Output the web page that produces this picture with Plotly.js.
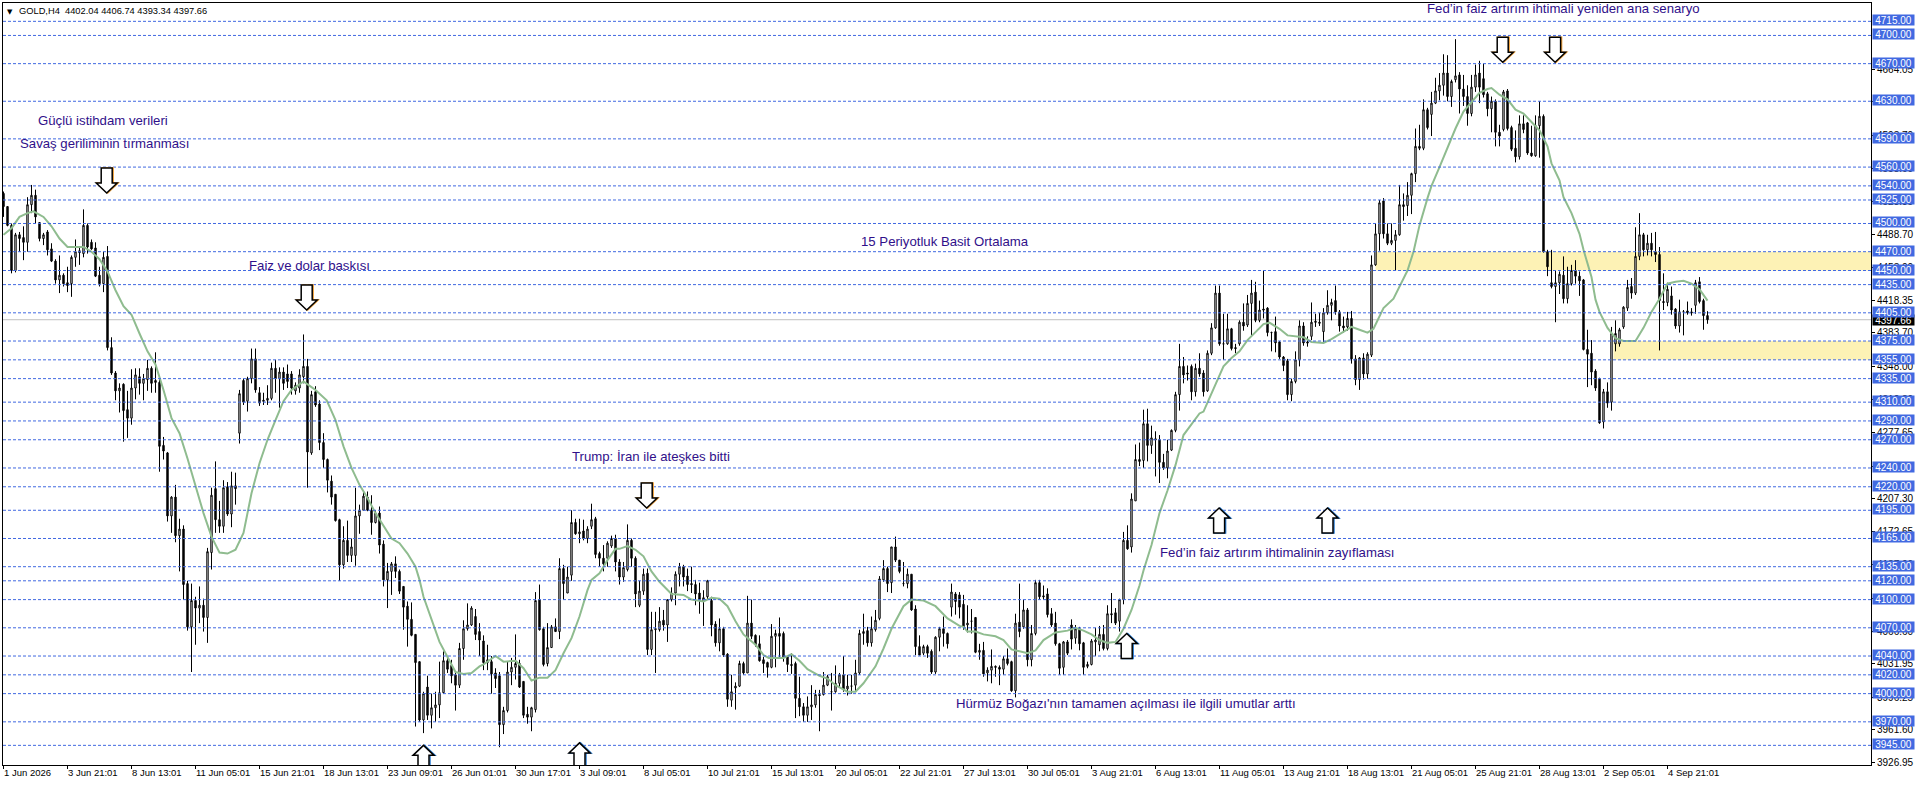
<!DOCTYPE html>
<html>
<head>
<meta charset="utf-8">
<script src="https://cdn.plot.ly/plotly-3.0.1.min.js"></script>
<style>html,body{margin:0;padding:0;background:#fff}</style>
</head>
<body>
<div id="gold_chart" style="width:1916px;height:786px"></div>
<script>
var opens = [
4532,4518,4498,4450,4488,4485,4480,4520,4530,4501,
4484,4491,4473,4460,4440,4445,4437,4436,4464,4471,
4468,4498,4480,4474,4445,4436,4465,4368,4341,4322,
4329,4302,4293,4325,4337,4330,4334,4346,4333,4331,
4264,4256,4189,4209,4168,4175,4117,4071,4099,4091,
4094,4081,4150,4218,4185,4178,4220,4191,4221,4277,
4333,4311,4335,4356,4320,4312,4312,4314,4346,4335,
4342,4340,4340,4322,4325,4337,4348,4256,4321,4308,
4267,4249,4226,4212,4185,4137,4163,4147,4147,4189,
4195,4209,4195,4182,4192,4159,4121,4130,4138,4130,
4114,4093,4079,4063,4034,3972,4007,3977,3985,3988,
4001,4035,4030,4020,4009,4048,4069,4073,4082,4066,
4056,4033,4034,4022,4019,3967,3982,4023,4028,4032,
4013,3978,3975,3983,4100,4069,4032,4049,4071,4066,
4133,4107,4126,4182,4170,4173,4165,4178,4186,4149,
4144,4144,4157,4165,4140,4124,4132,4163,4144,4094,
4109,4128,4047,4068,4068,4078,4073,4100,4107,4127,
4135,4125,4117,4116,4107,4098,4103,4099,4074,4054,
4069,4042,3993,4006,4008,4032,4022,4075,4062,4053,
4036,4033,4028,4061,4064,4064,4039,4031,4032,3995,
3986,3977,3986,3988,3999,3999,4009,4002,4002,4011,
4020,4005,4008,4009,4022,4064,4067,4054,4068,4080,
4121,4133,4118,4156,4142,4117,4117,4127,4090,4050,
4043,4050,4045,4023,4060,4069,4064,4092,4106,4105,
4095,4073,4077,4081,4044,4046,4022,4025,4029,4028,
4026,4037,4034,4003,4076,4071,4089,4036,4064,4118,
4104,4106,4085,4075,4053,4028,4055,4073,4059,4069,
4054,4029,4031,4055,4052,4063,4048,4085,4086,4077,
4100,4163,4156,4205,4249,4248,4287,4264,4271,4270,
4246,4240,4259,4280,4318,4348,4341,4348,4321,4346,
4341,4322,4362,4389,4426,4372,4372,4388,4368,4372,
4395,4392,4415,4427,4397,4409,4410,4384,4385,4374,
4358,4354,4318,4332,4355,4391,4374,4380,4396,4395,
4385,4405,4413,4418,4406,4391,4390,4399,4356,4334,
4357,4340,4360,4456,4489,4524,4489,4479,4482,4488,
4520,4519,4530,4553,4582,4580,4621,4616,4628,4641,
4647,4660,4635,4653,4658,4643,4635,4617,4645,4660,
4654,4638,4622,4630,4597,4600,4641,4602,4580,4571,
4606,4607,4575,4572,4604,4614,4470,4437,4433,4437,
4445,4420,4436,4450,4444,4440,4366,4362,4343,4335,
4289,4321,4310,4372,4372,4390,4410,4433,4426,4465,
4488,4472,4479,4470,4467,4417,4416,4423,4409,4391,
4406,4407,4406,4413,4438,4418,4402.04];

var highs = [
4534,4518,4500,4490,4491,4497,4528,4541,4536,4501,
4490,4493,4479,4462,4466,4447,4454,4466,4483,4474,
4515,4500,4483,4480,4454,4470,4476,4379,4343,4330,
4330,4322,4345,4346,4346,4340,4355,4348,4363,4338,
4273,4257,4210,4222,4186,4179,4120,4117,4103,4114,
4101,4155,4219,4247,4205,4227,4225,4236,4235,4323,
4335,4337,4367,4367,4326,4320,4328,4352,4355,4347,
4347,4350,4343,4331,4345,4382,4356,4322,4327,4312,
4277,4250,4232,4212,4186,4178,4184,4165,4219,4201,
4215,4215,4211,4195,4199,4163,4139,4140,4146,4132,
4114,4098,4097,4063,4034,4002,4019,4000,4002,4034,
4045,4040,4036,4022,4054,4078,4096,4093,4090,4075,
4062,4052,4040,4027,4023,3986,4034,4038,4063,4036,
4013,3986,3986,4108,4116,4071,4075,4073,4080,4144,
4137,4135,4195,4186,4186,4185,4178,4202,4188,4151,
4158,4162,4168,4169,4143,4140,4180,4165,4146,4120,
4133,4133,4087,4087,4092,4089,4100,4113,4130,4139,
4137,4133,4135,4121,4118,4110,4121,4103,4077,4080,
4071,4043,4020,4012,4035,4034,4104,4100,4063,4062,
4039,4034,4074,4068,4081,4066,4040,4043,4034,4018,
3990,3997,4009,4004,4004,4023,4020,4022,4030,4022,
4040,4020,4020,4036,4068,4085,4071,4082,4089,4125,
4142,4135,4156,4167,4142,4140,4133,4127,4094,4062,
4052,4052,4047,4061,4071,4082,4065,4117,4108,4108,
4105,4094,4090,4081,4053,4055,4028,4047,4030,4030,
4040,4048,4035,4085,4117,4100,4091,4073,4121,4121,
4115,4112,4091,4087,4054,4056,4057,4079,4073,4071,
4055,4034,4058,4070,4072,4073,4094,4107,4091,4101,
4172,4179,4213,4265,4267,4302,4303,4285,4279,4275,
4255,4270,4281,4321,4372,4358,4349,4350,4351,4362,
4344,4365,4394,4434,4434,4404,4404,4389,4372,4397,
4415,4424,4440,4438,4418,4450,4411,4385,4401,4375,
4359,4356,4335,4364,4397,4395,4380,4416,4404,4405,
4410,4429,4420,4434,4408,4401,4406,4407,4360,4358,
4362,4363,4466,4500,4525,4527,4500,4500,4493,4541,
4532,4544,4554,4601,4605,4632,4623,4640,4655,4660,
4680,4679,4653,4696,4661,4658,4647,4658,4669,4673,
4670,4640,4635,4632,4605,4642,4643,4604,4599,4615,
4615,4608,4604,4615,4630,4616,4472,4472,4450,4449,
4465,4454,4456,4461,4449,4441,4387,4376,4345,4336,
4324,4331,4390,4397,4389,4412,4440,4442,4496,4511,
4490,4488,4490,4491,4475,4447,4437,4433,4410,4419,
4408,4417,4410,4440,4443,4420,4406.74];

var lows = [
4507,4497,4447,4448,4470,4461,4470,4511,4500,4481,
4477,4466,4459,4436,4426,4433,4427,4422,4454,4456,
4464,4468,4472,4443,4433,4427,4365,4339,4312,4299,
4268,4272,4286,4313,4318,4312,4322,4320,4320,4236,
4249,4183,4171,4161,4130,4100,4067,4023,4052,4075,
4066,4054,4132,4171,4171,4171,4189,4177,4201,4266,
4307,4300,4330,4320,4306,4307,4307,4312,4320,4304,
4323,4325,4318,4318,4320,4330,4219,4254,4305,4259,
4240,4214,4201,4183,4120,4133,4140,4140,4136,4170,
4195,4194,4169,4181,4149,4114,4091,4105,4123,4106,
4068,4050,4061,3965,3970,3958,3972,3963,3970,3974,
4000,4022,4011,3982,4006,4036,4067,4072,4057,4040,
4025,4025,4000,4006,3943,3957,3980,4009,4015,4006,
3974,3968,3960,3980,4067,4029,4029,4049,4066,4058,
4100,4107,4120,4169,4160,4163,4160,4175,4144,4135,
4130,4135,4155,4130,4116,4119,4130,4135,4092,4092,
4105,4041,4041,4022,4066,4067,4055,4098,4094,4114,
4114,4109,4107,4094,4085,4072,4100,4061,4050,4045,
4039,3986,3986,3983,4007,4020,4022,4058,4050,4034,
4022,4017,4027,4028,4039,4034,4023,4021,3974,3976,
3970,3970,3972,3985,3960,3998,4008,3982,4001,4006,
4002,3998,4000,4003,4020,4052,4050,4050,4066,4078,
4119,4108,4107,4140,4128,4114,4112,4088,4041,4041,
4041,4038,4021,4021,4045,4050,4048,4082,4084,4080,
4068,4065,4064,4043,4036,4018,4013,4011,4018,4009,
4020,4030,4002,3996,4060,4069,4029,4029,4062,4100,
4100,4081,4071,4051,4020,4020,4041,4047,4053,4046,
4020,4027,4030,4040,4045,4046,4046,4075,4073,4066,
4095,4153,4150,4205,4242,4240,4247,4255,4231,4224,
4238,4229,4258,4278,4301,4330,4333,4312,4316,4337,
4316,4321,4360,4388,4370,4355,4371,4365,4362,4370,
4386,4390,4381,4395,4395,4399,4380,4364,4363,4356,
4343,4312,4311,4330,4348,4370,4369,4376,4390,4391,
4374,4403,4397,4403,4385,4384,4386,4351,4328,4323,
4334,4335,4358,4455,4471,4484,4477,4477,4450,4487,
4503,4508,4510,4544,4578,4578,4600,4593,4627,4631,
4636,4630,4624,4650,4617,4625,4604,4614,4640,4628,
4634,4614,4597,4582,4582,4598,4599,4577,4565,4568,
4596,4573,4571,4571,4570,4469,4444,4431,4395,4425,
4415,4415,4434,4436,4423,4365,4326,4328,4322,4287,
4282,4304,4301,4364,4369,4388,4407,4420,4424,4461,
4465,4466,4465,4459,4365,4408,4412,4403,4388,4384,
4381,4403,4402,4404,4415,4387,4393.34];

var closes = [
4518,4498,4450,4488,4484,4480,4520,4530,4507,4484,
4488,4472,4460,4440,4445,4436,4434,4464,4470,4469,
4498,4475,4473,4444,4436,4464,4368,4341,4322,4325,
4301,4293,4325,4339,4330,4335,4346,4330,4331,4263,
4258,4189,4209,4168,4175,4116,4071,4099,4091,4094,
4081,4151,4211,4185,4178,4219,4191,4221,4218,4319,
4310,4335,4356,4323,4309,4311,4314,4346,4335,4342,
4330,4332,4325,4328,4339,4348,4257,4318,4307,4267,
4249,4227,4209,4184,4137,4163,4147,4156,4189,4195,
4210,4195,4182,4192,4158,4121,4130,4138,4130,4109,
4092,4079,4062,4033,3972,4000,3977,3985,3988,4001,
4035,4026,4019,4009,4048,4069,4073,4091,4063,4057,
4033,4036,4021,4016,3967,3982,4023,4028,4032,4007,
3977,3975,3985,4099,4068,4031,4049,4071,4066,4133,
4117,4124,4182,4170,4172,4165,4175,4185,4148,4144,
4138,4160,4165,4140,4124,4134,4163,4144,4106,4109,
4127,4047,4068,4069,4077,4073,4100,4107,4127,4135,
4124,4116,4116,4106,4100,4102,4120,4073,4054,4069,
4041,3994,4002,4008,4032,4022,4075,4061,4052,4035,
4032,4028,4061,4064,4061,4039,4031,4030,3995,3986,
3977,3986,3988,3999,3998,4009,4018,4002,4011,4020,
4005,4008,4008,4022,4064,4066,4054,4069,4078,4122,
4133,4117,4156,4142,4130,4117,4127,4089,4050,4041,
4050,4043,4023,4060,4069,4064,4053,4108,4098,4092,
4071,4075,4077,4044,4046,4021,4025,4029,4028,4026,
4037,4032,4003,4075,4066,4089,4036,4064,4118,4103,
4103,4084,4073,4053,4027,4055,4043,4058,4069,4053,
4028,4031,4056,4057,4063,4048,4085,4084,4075,4100,
4163,4154,4207,4249,4247,4287,4264,4272,4270,4246,
4240,4258,4280,4318,4348,4339,4340,4321,4346,4340,
4321,4362,4389,4426,4372,4372,4388,4367,4367,4395,
4391,4415,4426,4397,4408,4408,4384,4384,4373,4358,
4349,4318,4332,4355,4391,4373,4373,4395,4395,4394,
4405,4413,4416,4406,4391,4389,4399,4356,4334,4357,
4340,4361,4456,4489,4522,4489,4479,4482,4488,4520,
4518,4530,4553,4582,4580,4621,4602,4628,4641,4647,
4660,4635,4651,4657,4643,4635,4617,4645,4658,4645,
4637,4622,4630,4597,4593,4640,4601,4579,4571,4606,
4600,4575,4572,4604,4614,4470,4454,4433,4437,4446,
4420,4436,4450,4444,4439,4366,4361,4342,4325,4288,
4321,4309,4383,4383,4387,4411,4432,4426,4465,4488,
4472,4479,4472,4467,4418,4416,4430,4408,4391,4406,
4406,4405,4405,4437,4417,4402,4397.66];

// 15 period average
var maBars = [0,2,4,6,7.5,10,12,14,16,18,20,22,24,26,28,30,32,34,36,38,40,42,44,46,48,50,52,54,56,58,60,62,64,66,68,70,72,73,75,77,78,80.8,83,85,87,89,91,93,95,97,99,101,103,104,105,107,109,111,113,115,117,119,120,123,125,128,130,132,134,136,138,140,142,144,146,147,149,151,153,154,156,158,160,162,164,167,170,172,175,177,179,181,183,185,188,190,191.3,195,197,199,201,204,206,208,211,213,215,218,220,222,225,227,230,233,236,239,240,241,243,245,248,250,252,254,256,258,260,263,266,268,270,272,274,276,278,280,282,284,285,287,289,291,293,295,297,299,300,301,303,305,307,309,311,313,315,316.5,319,321,323,325,327,330,332,335,337,339,341,342.5,345,347.5,349,351,352.5,354,356,357,359,361,363,365,367,369,371,372,374,376,378,380,382,384,386,387,389,390,392,394,395,397,398,399,401,403,405,408,410,412,414,416,418,420,422,424,426];
var maValues = [4488,4495,4507,4511,4513,4507,4497,4484,4475,4475,4475,4470,4462,4449,4429,4412,4403,4383,4364,4350,4323,4293,4277,4250,4220,4192,4167,4150,4149,4153,4171,4213,4245,4270,4291,4311,4323,4326,4332,4326,4323,4312,4291,4263,4240,4222,4208,4192,4178,4165,4160,4149,4135,4121,4103,4078,4055,4039,4023,4021,4022,4029,4031,4040,4034,4035,4027,4014,4017,4017,4025,4043,4059,4082,4110,4121,4128,4142,4154,4154,4157,4153,4146,4130,4119,4106,4105,4100,4098,4102,4101,4093,4077,4063,4052,4041,4038,4038,4042,4035,4026,4019,4016,4009,4002,4002,4011,4029,4048,4069,4093,4100,4099,4093,4080,4072,4071,4066,4066,4063,4061,4057,4047,4045,4043,4046,4057,4065,4067,4070,4067,4063,4057,4054,4055,4069,4089,4115,4131,4158,4192,4216,4243,4275,4287,4298,4300,4310,4330,4348,4357,4364,4376,4384,4393,4394.5,4388,4381,4380,4379,4374,4373,4377,4385,4390,4387,4384,4388,4410,4420,4433,4450,4470,4498,4527,4540,4560,4581,4601,4619,4629,4639,4643,4644,4637,4632,4621,4617,4608,4599,4582,4564,4546,4528,4511,4489,4472,4443,4419,4406,4389,4378,4375,4375,4389,4406,4420,4436,4438,4439,4436,4430,4418];

var levels = [4715,4700,4670,4630,4590,4560,4540,4525,4500,4470,4450,4435,4405,4375,4355,4335,4310,4290,4270,4240,4220,4195,4165,4135,4120,4100,4070,4040,4020,4000,3970,3945];
var lastPrice = 4397.66;

var priceTicks = [3926.95,3961.60,3996.25,4031.95,4066.60,4101.25,4137.00,4172.65,4207.30,4242.00,4277.65,4312.30,4348.00,4383.70,4418.35,4453.00,4488.70,4523.35,4558.00,4593.70,4629.35,4664.05];

var dateLabels = ['1 Jun 2026','3 Jun 21:01','8 Jun 13:01','11 Jun 05:01','15 Jun 21:01','18 Jun 13:01','23 Jun 09:01','26 Jun 01:01','30 Jun 17:01','3 Jul 09:01','8 Jul 05:01','10 Jul 21:01','15 Jul 13:01','20 Jul 05:01','22 Jul 21:01','27 Jul 13:01','30 Jul 05:01','3 Aug 21:01','6 Aug 13:01','11 Aug 05:01','13 Aug 21:01','18 Aug 13:01','21 Aug 05:01','25 Aug 21:01','28 Aug 13:01','2 Sep 05:01','4 Sep 21:01'];
var dateStep = 16;

var noteTexts = ['Güçlü istihdam verileri','Savaş geriliminin tırmanması','Faiz ve dolar baskısı','15 Periyotluk Basit Ortalama','Trump: İran ile ateşkes bitti','Fed’in faiz artırım ihtimalinin zayıflaması','Hürmüz Boğazı\'nın tamamen açılması ile ilgili umutlar arttı','Fed’in faiz artırım ihtimali yeniden ana senaryo'];
var noteBars = [8.1,3.5,60.9,213.9,141.5,288.5,237.5,355.3];
var notePrices = [4610,4585.6,4455,4480.5,4252,4150,3989,4729];

var downArrowBars = [25.8,75.8,160.8,374.8,387.9];
var downArrowPrices = [4532.4,4408,4197.5,4671.4,4671.4];
var upArrowBars = [105,144,280.8,303.9,331];
var upArrowPrices = [3945,3947.6,4064,4197.4,4197.4];

var zoneStarts = [343,402.5];
var zoneTops = [4470,4375];
var zoneBottoms = [4450,4355];

var bars = opens.map(function (v, i) { return i; });
var xEnd = 466.875;

var candles = {
    type: 'candlestick',
    x: bars,
    open: opens,
    high: highs,
    low: lows,
    close: closes,
    whiskerwidth: 0,
    line: {width: 1},
    increasing: {line: {color: '#000000', width: 1}, fillcolor: '#ffffff'},
    decreasing: {line: {color: '#000000', width: 1}, fillcolor: '#000000'},
    hoverinfo: 'skip'
};

var average = {
    type: 'scatter',
    mode: 'lines',
    x: maBars,
    y: maValues,
    line: {color: '#8fbc8f', width: 2},
    hoverinfo: 'skip'
};

var NOTE_FONT = {family: 'Liberation Sans, Arial, sans-serif', size: 13.2, color: '#30108a'};
var AXIS_FONT = {family: 'Liberation Sans, Arial, sans-serif', size: 9.5, color: '#000000'};
var PRICE_FONT_SIZE = 10;

var shapes = [];

zoneStarts.forEach(function (start, i) {
    shapes.push({type: 'rect', layer: 'below', xref: 'x', yref: 'y', x0: start, x1: xEnd, y0: zoneBottoms[i], y1: zoneTops[i], fillcolor: '#fdf2b5', line: {width: 0}});
});

shapes.push({type: 'line', layer: 'below', xref: 'paper', yref: 'y', x0: 0, x1: 1, y0: lastPrice, y1: lastPrice, line: {color: '#c0c0c0', width: 1}});

levels.forEach(function (level) {
    shapes.push({type: 'line', layer: 'above', xref: 'paper', yref: 'y', x0: 0, x1: 1, y0: level, y1: level, line: {color: '#4169e1', width: 1, dash: '3px,2px'}});
});

// hollow arrow glyph, tip on the anchor, sized in pixels, dx nudges the colour fringe
function arrowShape(bar, price, dir, dx, colour) {
    var s = dir;
    var path = 'M' + dx + ',0 L' + (10.5 + dx) + ',' + (10 * s) + ' L' + (5.5 + dx) + ',' + (10 * s) + ' L' + (5.5 + dx) + ',' + (25 * s) + ' L' + (-5.5 + dx) + ',' + (25 * s) + ' L' + (-5.5 + dx) + ',' + (10 * s) + ' L' + (-10.5 + dx) + ',' + (10 * s) + ' Z';
    return {type: 'path', layer: 'above', xref: 'x', yref: 'y', xsizemode: 'pixel', ysizemode: 'pixel', xanchor: bar, yanchor: price, path: path, fillcolor: '#ffffff', line: {color: colour, width: 1.5}};
}
downArrowBars.forEach(function (b, i) {
    shapes.push(arrowShape(b, downArrowPrices[i], 1, 1, '#f2a33c'));
    shapes.push(arrowShape(b, downArrowPrices[i], 1, 0, '#000000'));
});
upArrowBars.forEach(function (b, i) {
    shapes.push(arrowShape(b, upArrowPrices[i], -1, 1, '#2b7fd6'));
    shapes.push(arrowShape(b, upArrowPrices[i], -1, 0, '#000000'));
});

var annotations = [];

noteTexts.forEach(function (t, i) {
    annotations.push({xref: 'x', yref: 'y', x: noteBars[i], y: notePrices[i], text: t, showarrow: false, xanchor: 'left', yanchor: 'middle', font: NOTE_FONT});
});

dateLabels.forEach(function (t, i) {
    annotations.push({xref: 'x', yref: 'paper', x: i * dateStep, y: 0, text: t, showarrow: false, xanchor: 'left', yanchor: 'top', xshift: -1, yshift: -1, font: AXIS_FONT, borderpad: 0});
});

// price labels on the axis, black last price first so the blue ones cover it
annotations.push({xref: 'paper', yref: 'y', x: 1, y: lastPrice, text: lastPrice.toFixed(2), showarrow: false, xanchor: 'left', yanchor: 'middle', xshift: 1, width: 41, height: 10, bgcolor: '#000000', borderpad: 0, font: {family: AXIS_FONT.family, size: PRICE_FONT_SIZE, color: '#ffffff'}});
levels.forEach(function (level) {
    annotations.push({xref: 'paper', yref: 'y', x: 1, y: level, yshift: 1, text: level.toFixed(2), showarrow: false, xanchor: 'left', yanchor: 'middle', xshift: 1, width: 41, height: 10, bgcolor: '#4169e1', borderpad: 0, font: {family: AXIS_FONT.family, size: PRICE_FONT_SIZE, color: '#ffffff'}});
});

annotations.push({xref: 'paper', yref: 'paper', x: 0, y: 1, text: '▼', showarrow: false, xanchor: 'left', yanchor: 'top', xshift: 2, yshift: -3, font: {family: 'DejaVu Sans', size: 7, color: '#000000'}});
annotations.push({xref: 'paper', yref: 'paper', x: 0, y: 1, text: 'GOLD,H4  4402.04 4406.74 4393.34 4397.66', showarrow: false, xanchor: 'left', yanchor: 'top', xshift: 14, yshift: -1, font: {family: AXIS_FONT.family, size: 9.3, color: '#000000'}});

var layout = {
    width: 1916,
    height: 786,
    paper_bgcolor: '#ffffff',
    plot_bgcolor: '#ffffff',
    showlegend: false,
    boxgap: 0.5,
    margin: {l: 3, r: 45, t: 3, b: 21, pad: 0},
    xaxis: {
        type: 'linear',
        range: [-0.125, xEnd],
        rangeslider: {visible: false},
        tickmode: 'array',
        tickvals: dateLabels.map(function (t, i) { return i * dateStep; }),
        showticklabels: false,
        ticks: 'outside',
        ticklen: 3,
        tickcolor: '#000000',
        showgrid: false,
        zeroline: false,
        showline: true,
        linecolor: '#000000',
        linewidth: 1,
        mirror: true
    },
    yaxis: {
        side: 'right',
        range: [3924.1, 4734.5],
        tickmode: 'array',
        tickvals: priceTicks,
        ticktext: priceTicks.map(function (p) { return p.toFixed(2); }),
        tickfont: {family: AXIS_FONT.family, size: PRICE_FONT_SIZE, color: '#000000'},
        ticks: 'outside',
        ticklen: 3,
        tickcolor: '#000000',
        showgrid: false,
        zeroline: false,
        showline: true,
        linecolor: '#000000',
        linewidth: 1,
        mirror: true
    },
    shapes: shapes,
    annotations: annotations
};

var config = {displayModeBar: false, staticPlot: true};

Plotly.newPlot('gold_chart', [candles, average], layout, config);
</script>
</body>
</html>
